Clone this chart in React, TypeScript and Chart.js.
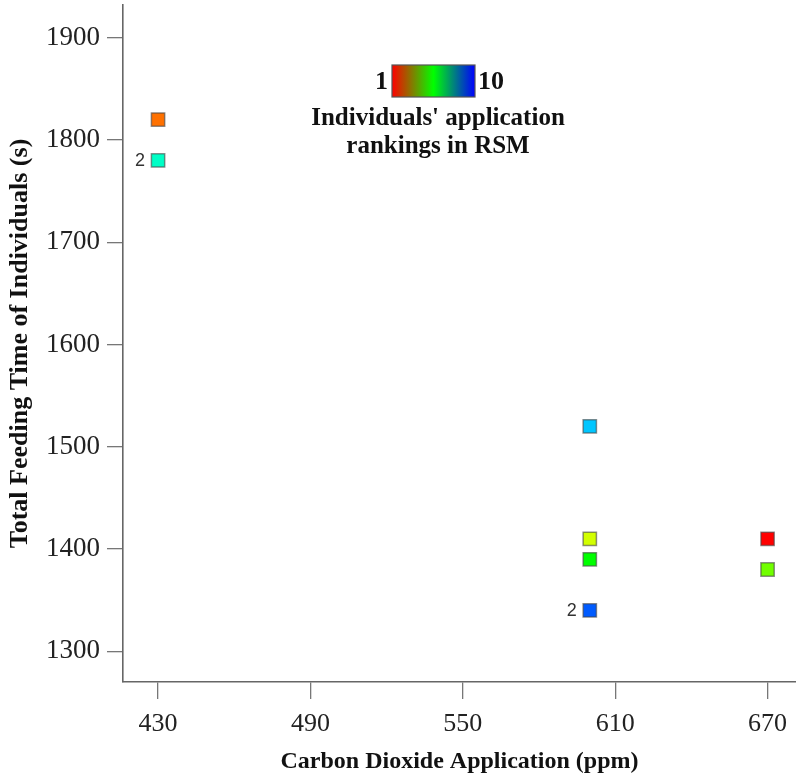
import React, { useEffect, useRef } from "react";
import { Chart, registerables } from "chart.js";

Chart.register(...registerables);

// CO2 application level (ppm) for each individual
const CO2_PPM = [430, 430, 600, 600, 600, 600, 670, 670];
// Total feeding time (s)
const FEEDING_TIME = [1820, 1780, 1520, 1410, 1390, 1340, 1410, 1380];
// Application ranking in RSM (1 = best, 10 = worst)
const RANKINGS = [2, 7.25, 8.25, 3.65, 5.5, 9.2, 1, 4.5];
// Count annotation for overlapping individuals
const COUNT_LABELS = ["", "2", "", "", "", "2", "", ""];

const X_TICKS = [430, 490, 550, 610, 670];
const Y_TICKS = [1300, 1400, 1500, 1600, 1700, 1800, 1900];
const RANK_MIN = 1;
const RANK_MAX = 10;

const SERIF = "'Liberation Serif', 'Times New Roman', serif";

function rankColor(rank: number): string {
  const t = (rank - RANK_MIN) / (RANK_MAX - RANK_MIN);
  const hue = t * 240;
  return `hsl(${hue.toFixed(1)}, 100%, 50%)`;
}

const countLabelPlugin = {
  id: "countLabels",
  afterDatasetsDraw(chart: any) {
    const meta = chart.getDatasetMeta(0);
    const ctx = chart.ctx;
    ctx.save();
    ctx.font = "18px 'Liberation Sans', Arial, sans-serif";
    ctx.fillStyle = "#333";
    ctx.textAlign = "right";
    ctx.textBaseline = "middle";
    meta.data.forEach((pt: any, i: number) => {
      const txt = COUNT_LABELS[i];
      if (txt) ctx.fillText(txt, pt.x - 13, pt.y + 1);
    });
    ctx.restore();
  },
};

const rankLegendPlugin = {
  id: "rankLegend",
  afterDraw(chart: any) {
    const ctx = chart.ctx;
    const barX = 392;
    const barY = 65;
    const barW = 83;
    const barH = 32;
    ctx.save();
    const grad = ctx.createLinearGradient(barX, 0, barX + barW, 0);
    grad.addColorStop(0, "#ff0000");
    grad.addColorStop(0.5, "#00ff00");
    grad.addColorStop(1, "#0000ff");
    ctx.fillStyle = grad;
    ctx.fillRect(barX, barY, barW, barH);
    ctx.strokeStyle = "#555";
    ctx.lineWidth = 1.2;
    ctx.strokeRect(barX, barY, barW, barH);

    ctx.fillStyle = "#111";
    ctx.font = `bold 26px ${SERIF}`;
    ctx.textBaseline = "middle";
    ctx.textAlign = "right";
    ctx.fillText(String(RANK_MIN), barX - 4, barY + barH / 2 + 1);
    ctx.textAlign = "left";
    ctx.fillText(String(RANK_MAX), barX + barW + 3, barY + barH / 2 + 1);

    ctx.font = `bold 25px ${SERIF}`;
    ctx.textAlign = "center";
    const cx = 438;
    ctx.fillText("Individuals' application", cx, 119);
    ctx.fillText("rankings in RSM", cx, 147);
    ctx.restore();
  },
};

export default function App() {
  const canvasRef = useRef<HTMLCanvasElement | null>(null);

  useEffect(() => {
    if (!canvasRef.current) return;
    const points = CO2_PPM.map((x, i) => ({ x, y: FEEDING_TIME[i] }));
    const colors = RANKINGS.map(rankColor);

    const chart = new Chart(canvasRef.current, {
      type: "scatter",
      data: {
        datasets: [
          {
            data: points,
            pointStyle: "rect",
            pointRadius: 9.4,
            pointHoverRadius: 9.4,
            backgroundColor: colors,
            borderColor: "rgba(70,70,70,0.6)",
            borderWidth: 1.5,
          },
        ],
      },
      options: {
        animation: false,
        responsive: false,
        maintainAspectRatio: false,
        layout: {
          autoPadding: false,
          padding: { top: 5, left: 0, right: 0, bottom: 0 },
        },
        plugins: {
          legend: { display: false },
          tooltip: { enabled: false },
        },
        scales: {
          x: {
            type: "linear",
            min: 416.2,
            max: 681.2,
            afterBuildTicks: (scale: any) => {
              scale.ticks = X_TICKS.map((v) => ({ value: v }));
            },
            afterFit: (scale: any) => {
              scale.height = 100;
              scale.paddingLeft = 0;
              scale.paddingRight = 0;
            },
            grid: {
              display: true,
              drawOnChartArea: false,
              drawTicks: true,
              tickLength: 17,
              color: "#777",
              lineWidth: 1.3,
            },
            border: { display: true, color: "#666", width: 1.6 },
            ticks: {
              padding: 10,
              color: "#222",
              font: { family: SERIF, size: 26 },
              callback: (v: any) => String(v),
            },
            title: {
              display: true,
              text: "Carbon Dioxide Application (ppm)",
              color: "#111",
              font: { family: SERIF, size: 24, weight: "bold" },
              padding: { top: 0, bottom: 5.5 },
            },
          },
          y: {
            type: "linear",
            min: 1270,
            max: 1932,
            afterBuildTicks: (scale: any) => {
              scale.ticks = Y_TICKS.map((v) => ({ value: v }));
            },
            afterFit: (scale: any) => {
              scale.width = 123;
              scale.paddingTop = 0;
              scale.paddingBottom = 0;
            },
            grid: {
              display: true,
              drawOnChartArea: false,
              drawTicks: true,
              tickLength: 16,
              color: "#777",
              lineWidth: 1.3,
            },
            border: { display: true, color: "#666", width: 1.6 },
            ticks: {
              padding: 7,
              color: "#222",
              font: { family: SERIF, size: 27 },
              callback: (v: any) => String(v),
            },
            title: {
              display: true,
              text: "Total Feeding Time of Individuals (s)",
              color: "#111",
              font: { family: SERIF, size: 26, weight: "bold" },
              padding: { top: 4.5, bottom: 0 },
            },
          },
        },
      },
      plugins: [countLabelPlugin, rankLegendPlugin],
    });

    return () => chart.destroy();
  }, []);

  return (
    <div
      style={{
        position: "absolute",
        left: 0,
        top: 0,
        width: 796,
        height: 782,
        background: "#fff",
      }}
    >
      <canvas ref={canvasRef} width={796} height={782} />
    </div>
  );
}
